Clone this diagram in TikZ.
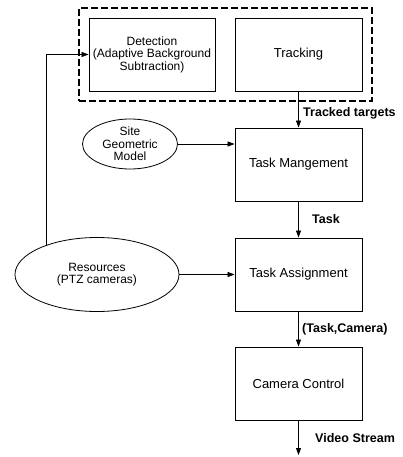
\documentclass[tikz,border=0pt]{standalone}
\usepackage{fontspec}
\setmainfont{Liberation Sans}
\usetikzlibrary{shapes.geometric,fit,arrows.meta}

\begin{document}
\begin{tikzpicture}[x=1pt,y=-1pt,font=\fontsize{13}{14}\selectfont,
  >={Triangle[length=7pt,width=5pt]},
  block/.style={draw,line width=0.9pt,minimum width=127pt,minimum height=73pt,inner sep=0pt,align=center},
  blob/.style={draw,ellipse,line width=0.8pt,inner sep=0pt,align=center,font=\fontsize{12}{12.5}\selectfont},
  lbl/.style={font=\bfseries\fontsize{12.5}{13}\selectfont,right}]

\def\cx{298.5}

\useasboundingbox (0,0) rectangle (402,457);

% Detection and tracking
\node[block,minimum width=126pt,font=\fontsize{12}{12.5}\selectfont] (det) at (152,54.5)
  {Detection\\(Adaptive Background\\Subtraction)};
\node[block] (trk) at (\cx,54.5) {Tracking};
\node[draw,line width=1.6pt,dash pattern=on 7pt off 3pt,fit=(det)(trk),inner sep=9.5pt] (grp) {};

% Task chain
\node[block] (mgmt) at (\cx,164.5) {Task Mangement};
\node[block] (asg) at (\cx,274.5) {Task Assignment};
\node[block] (cam) at (\cx,383.5) {Camera Control};
\coordinate (out) at (\cx,455);

% Models and resources
\node[blob,minimum width=95pt,minimum height=50pt] (site) at (130,144)
  {Site\\Geometric\\Model};
\node[blob,minimum width=164pt,minimum height=74pt] (res) at (97,274.5)
  {Resources\\(PTZ cameras)};

% Flows
\draw[->,line width=0.8pt] (trk) -- (mgmt) node[lbl,pos=0.6,xshift=1pt] {Tracked targets};
\draw[->,line width=0.8pt] (mgmt) -- (asg) node[lbl,midway,xshift=10pt] {Task};
\draw[->,line width=0.8pt] (asg) -- (cam) node[lbl,midway] {(Task,Camera)};
\draw[->,line width=0.8pt] (cam) -- (out) node[lbl,midway,xshift=13pt] {Video Stream};

\draw[->,line width=0.8pt] (site) -- (site -| mgmt.west);
\draw[->,line width=0.8pt] (res) -- (asg);
\draw[->,line width=0.8pt] (res.150) |- (det.west);

\end{tikzpicture}
\end{document}
